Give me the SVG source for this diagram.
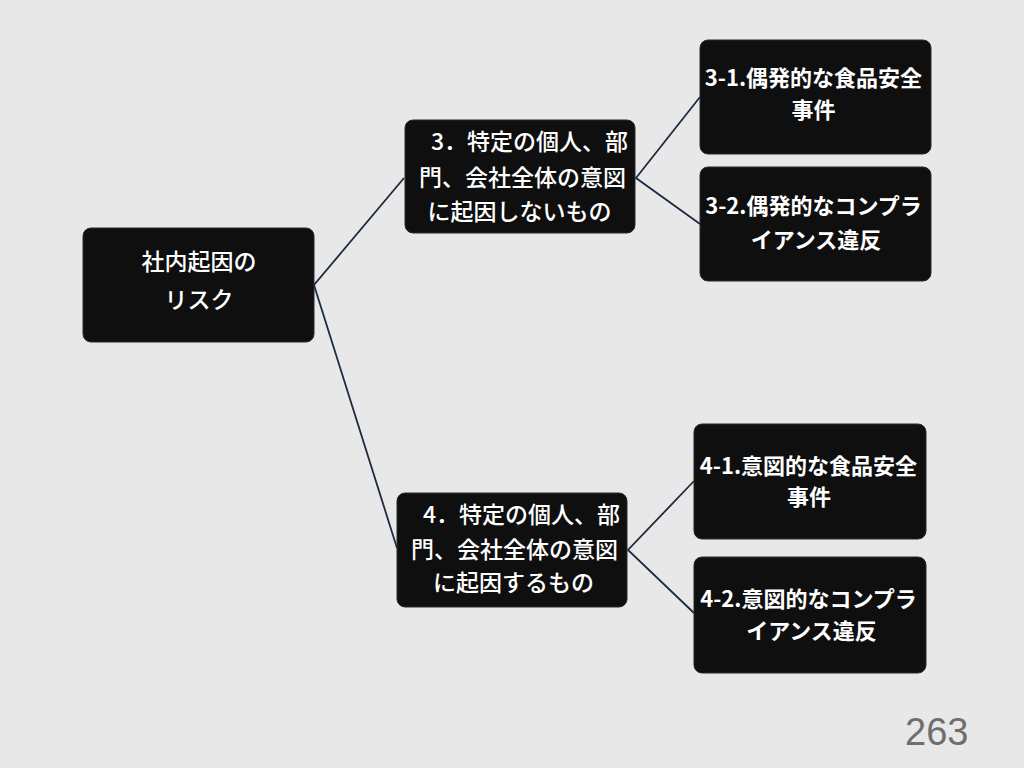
<svg xmlns="http://www.w3.org/2000/svg" width="1024" height="768" viewBox="0 0 1024 768">
<style>
.bg{fill:#e8e8e8}
.box{fill:#0f0f0f;stroke:#2a2a2a;stroke-width:1}
.t{fill:#ffffff;font-family:"Noto Sans CJK JP","Noto Sans",sans-serif;font-size:22px;font-weight:bold;text-anchor:middle}
.m{fill:#ffffff;font-family:"Noto Sans CJK JP","Noto Sans",sans-serif;font-size:23px;font-weight:500;text-anchor:middle}
.e{text-anchor:end}
.c{fill:none;stroke:#1d2b42;stroke-width:1.8}
.pn{fill:#6e6e6e;font-family:"Liberation Sans",Arial,sans-serif;font-size:38px}
</style>
<rect class="bg" x="0" y="0" width="1024" height="768"/>
<g id="connectors">
<polyline class="c" points="404,178 314,285 397,548"/>
<polyline class="c" points="700,97 636,178 700,224"/>
<polyline class="c" points="694,481 628,550 694,613"/>
</g>
<g id="root">
<rect class="box" x="83" y="228" width="231" height="114" rx="8"/>
<text class="m" x="199" y="270">社内起因の</text>
<text class="m" x="199" y="308">リスク</text>
</g>
<g id="n3">
<rect class="box" x="405" y="120" width="230" height="113" rx="8"/>
<text class="m e" x="628" y="150">3．特定の個人、部</text>
<text class="m" x="522.5" y="185.5">門、会社全体の意図</text>
<text class="m" x="519.5" y="219.5">に起因しないもの</text>
</g>
<g id="n31">
<rect class="box" x="700" y="40" width="231" height="114" rx="8"/>
<text class="t" x="813.5" y="85.5">3-1.偶発的な食品安全</text>
<text class="t" x="813.5" y="117.5">事件</text>
</g>
<g id="n32">
<rect class="box" x="700" y="167" width="231" height="114" rx="8"/>
<text class="t" x="813.5" y="213.5">3-2.偶発的なコンプラ</text>
<text class="t" x="816" y="247.5">イアンス違反</text>
</g>
<g id="n4">
<rect class="box" x="397" y="493" width="230" height="114" rx="8"/>
<text class="m e" x="620" y="523">4．特定の個人、部</text>
<text class="m" x="514.5" y="557.5">門、会社全体の意図</text>
<text class="m" x="513.5" y="590.5">に起因するもの</text>
</g>
<g id="n41">
<rect class="box" x="694" y="424" width="232" height="115" rx="8"/>
<text class="t" x="808.5" y="473.5">4-1.意図的な食品安全</text>
<text class="t" x="809" y="505">事件</text>
</g>
<g id="n42">
<rect class="box" x="694" y="557" width="232" height="116" rx="8"/>
<text class="t" x="808.5" y="606.5">4-2.意図的なコンプラ</text>
<text class="t" x="811.5" y="638.5">イアンス違反</text>
</g>
<text class="pn" x="905" y="745">263</text>
</svg>
